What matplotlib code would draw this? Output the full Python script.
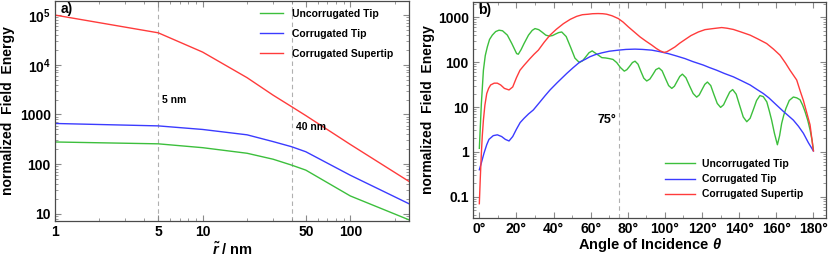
import matplotlib
matplotlib.use("Agg")
import matplotlib.pyplot as plt
from matplotlib.ticker import LogLocator, NullFormatter, MultipleLocator

# Colors
GREEN = "#3cbf3c"
BLUE  = "#3b3bff"
RED   = "#ff3b3b"
FRAME = "#4a4a4a"
TICK  = "#8a8a8a"
DASH  = "#b0b0b0"

LABELS = ["Uncorrugated Tip", "Corrugated Tip", "Corrugated Supertip"]

# Panel a: field energy vs tip radius
r_nm     = [1, 5, 10, 20, 30, 40, 50, 100, 250]
a_uncorr = [280, 257, 215, 166, 126, 96, 76, 23, 7.6]
a_corr   = [660, 590, 500, 390, 285, 225, 178, 60, 16]
a_super  = [1.0e5, 4.4e4, 1.8e4, 5500, 2450, 1440, 950, 250, 45]
a_xticks = [1, 5, 10, 50, 100]
a_yticks = [10, 100, 1000, 1e4, 1e5]
a_ylabels = ["10", "100", "1000", r"$10^4$", r"$10^5$"]

# Panel b: field energy vs angle of incidence
th_uncorr = [0, 1.1, 2.2, 3.2, 4.3, 5.5, 7, 8.8, 10.6, 12.5, 15.1, 17.5, 20.1, 21,
             22.5, 24.1, 26.5, 28.5, 30, 32, 34, 35.8, 37.7, 39.5, 41, 42.7, 44.4,
             46.8, 49.2, 51.5, 53.9, 55.6, 57.4, 59.1, 60.8, 63.4, 66, 68, 70, 72,
             74, 76, 78.1, 79.5, 81, 82.5, 83.9, 85.5, 87, 88.6, 90.2, 91.9, 93.5,
             95.1, 96.8, 98.5, 100.2, 102, 103.7, 105.1, 106.5, 108, 109.4, 111.3,
             113.2, 115.2, 117.1, 118.5, 120, 121.5, 122.9, 124.7, 126.4, 128.2,
             130, 131.6, 133.2, 134.9, 136.5, 138.4, 140.3, 142.2, 144.1, 145.9,
             147.7, 149.4, 151.2, 153, 154.9, 156.3, 157.5, 159, 160.6, 161.8,
             162.9, 164, 165.2, 167, 169.2, 171, 172.8, 174.2, 175.5, 177, 178.2,
             179.3, 180]
b_uncorr = [1.2, 12, 66, 140, 218, 320, 400, 480, 515, 500, 400, 260, 155, 150,
            190, 260, 400, 510, 560, 530, 460, 400, 380, 392, 422, 455, 470,
            372, 214, 123, 98, 107, 132, 162, 178, 150, 126, 124, 120, 115,
            98, 76, 63, 68, 81, 98, 105, 90, 63, 44, 38, 42, 53,
            68, 74, 64, 44, 30, 26, 29, 37, 48, 54, 45,
            30, 20, 16.6, 18.6, 24.5, 32, 36, 30, 19, 12,
            9.8, 11.2, 15.5, 21.5, 24.5, 19.3, 10.7, 6.0, 4.7, 5.6,
            8.9, 14, 18, 17, 13, 8, 5.1, 2.6, 1.44, 2.3,
            4.3, 6.5, 9.3, 14, 16.7, 16, 14.5, 11, 7.9, 5, 3.1,
            1.8, 1.1]

th_corr = [0, 1, 2.5, 4, 5.2, 7.5, 9.7, 12, 14, 16, 18, 20, 22, 24.1, 26.5, 29.1,
           32.7, 35.5, 38.1, 42, 47.1, 50.5, 54.3, 57, 59.6, 62.5, 66, 70, 74.9,
           79, 83.9, 88, 92.9, 97, 101.8, 106, 110.8, 115, 120.7, 123.9, 127.9,
           132, 136.9, 141, 145.9, 150, 153, 156, 160.2, 163.8, 166.5, 169.2, 172,
           174.6, 177.3, 180]
b_corr = [0.4, 0.55, 0.93, 1.45, 1.9, 2.3, 2.4, 2.2, 1.9, 1.75, 2.2, 3.2, 4.5, 5.6,
          7, 8.6, 13, 18, 24, 35, 56, 75, 102, 115, 132, 147, 161, 175, 185,
          192, 195, 192, 185, 172, 155, 138, 120, 103, 86, 76, 66,
          56, 47, 39, 31, 24, 20, 16, 11, 8, 6.4, 5.1, 3.7,
          2.6, 1.6, 1.05]

th_super = [0, 0.5, 1.1, 1.6, 2.2, 3, 4, 5, 6.1, 8, 9.7, 11.5, 13.5, 16, 18, 20,
            21.9, 24.1, 27.3, 29.5, 31.8, 35, 38.1, 41.5, 45.3, 49, 52.5, 55.5,
            58.7, 61, 64, 66.5, 68.6, 71.5, 74.9, 77.5, 80.3, 83.5, 86.6, 89.7,
            92.9, 95.5, 97.5, 99.5, 101, 103, 105.4, 108, 110.8, 114, 118, 121.6,
            126, 130.6, 133.5, 136.9, 141, 145.9, 150, 154.8, 158.5, 162, 165,
            167.4, 171, 173, 174.6, 176.4, 178.2, 180]
b_super = [0.07, 0.25, 0.93, 2.3, 5.1, 11, 20, 26, 31, 34, 34, 31, 26, 24, 28, 45,
           66, 85, 120, 150, 185, 280, 400, 540, 720, 900, 1050, 1140,
           1170, 1200, 1210, 1200, 1170, 1080, 935, 780, 610, 470, 365, 295,
           240, 200, 178, 165, 170, 190, 218, 265, 318, 390, 470, 530,
           560, 590, 570, 535, 470, 400, 330, 260, 195, 143, 95,
           66, 40, 22, 14, 7.5, 4, 1.05]
b_xticks = list(range(0, 181, 20))

plt.rcParams.update({
    "font.family": ["Liberation Sans", "DejaVu Sans"],
    "font.weight": "bold",
    "axes.labelweight": "bold",
    "mathtext.fontset": "custom",
    "mathtext.rm": "Liberation Sans:bold",
    "mathtext.bf": "Liberation Sans:bold",
    "mathtext.it": "Liberation Sans:italic:bold",
    "axes.edgecolor": FRAME,
    "axes.linewidth": 0.9,
    "xtick.direction": "in",
    "ytick.direction": "in",
    "xtick.top": True,
    "ytick.right": True,
    "xtick.color": TICK,
    "ytick.color": TICK,
    "xtick.labelcolor": "black",
    "ytick.labelcolor": "black",
    "xtick.labelsize": 10,
    "ytick.labelsize": 10,
    "xtick.major.size": 4,
    "ytick.major.size": 4,
    "xtick.minor.size": 2,
    "ytick.minor.size": 2,
    "xtick.major.pad": 3,
    "ytick.major.pad": 3,
})

fig = plt.figure(figsize=(8.3, 2.59), dpi=100)
ax1 = fig.add_axes([0.0663, 0.1467, 0.4265, 0.849])
ax2 = fig.add_axes([0.5699, 0.1583, 0.4253, 0.834])

# a) radius dependence
ax1.plot(r_nm, a_uncorr, color=GREEN, lw=1, label=LABELS[0])
ax1.plot(r_nm, a_corr, color=BLUE, lw=1, label=LABELS[1])
ax1.plot(r_nm, a_super, color=RED, lw=1, label=LABELS[2])
ax1.set_xscale("log"); ax1.set_yscale("log")
ax1.set_xlim(1, 250); ax1.set_ylim(7.2, 1.91e5)
ax1.axvline(5, color=DASH, lw=0.8, ls=(0, (4, 3)), zorder=0)
ax1.axvline(40, color=DASH, lw=0.8, ls=(0, (4, 3)), zorder=0)
ax1.set_xticks(a_xticks, [str(v) for v in a_xticks])
ax1.set_yticks(a_yticks, a_ylabels)
ax1.xaxis.set_minor_locator(LogLocator(base=10, subs=range(2, 10), numticks=20))
ax1.yaxis.set_minor_locator(LogLocator(base=10, subs=range(2, 10), numticks=20))
ax1.xaxis.set_minor_formatter(NullFormatter())
ax1.yaxis.set_minor_formatter(NullFormatter())
ax1.text(5.32, 1950, "5 nm", fontsize=7.5, ha="left", va="center")
ax1.text(43, 569, "40 nm", fontsize=7.5, ha="left", va="center")
ax1.text(0.015, 0.995, "a)", transform=ax1.transAxes, fontsize=10, va="top")
ax1.set_xlabel(r"$\tilde{r}$ / nm", fontsize=10.5, labelpad=1)
ax1.set_ylabel("normalized  Field  Energy", fontsize=10)
ax1.yaxis.set_label_coords(-0.113, 0.5)
ax1.legend(loc="upper left", bbox_to_anchor=(0.579, 0.964), frameon=False,
           fontsize=7.5, handlelength=2.2, handletextpad=0.85, labelspacing=0.95,
           borderpad=0, borderaxespad=0)

# b) angle dependence
ax2.plot(th_uncorr, b_uncorr, color=GREEN, lw=1, label=LABELS[0])
ax2.plot(th_corr, b_corr, color=BLUE, lw=1, label=LABELS[1])
ax2.plot(th_super, b_super, color=RED, lw=1, label=LABELS[2])
ax2.set_yscale("log")
ax2.set_xlim(-3.4, 186.8); ax2.set_ylim(0.0336, 2190)
ax2.axvline(75, color=DASH, lw=0.8, ls=(0, (4, 3)), zorder=0)
ax2.set_xticks(b_xticks, [f"{v}°" for v in b_xticks])
ax2.xaxis.set_minor_locator(MultipleLocator(10))
ax2.set_yticks([0.1, 1, 10, 100, 1000], ["0.1", "1", "10", "100", "1000"])
ax2.yaxis.set_minor_locator(LogLocator(base=10, subs=range(2, 10), numticks=20))
ax2.yaxis.set_minor_formatter(NullFormatter())
ax2.text(74, 5.2, "75°", fontsize=9, ha="right", va="center")
ax2.text(0.015, 0.995, "b)", transform=ax2.transAxes, fontsize=10, va="top")
ax2.set_xlabel(r"Angle of Incidence $\theta$", fontsize=10.5, labelpad=0)
ax2.set_ylabel("normalized  Field  Energy", fontsize=10)
ax2.yaxis.set_label_coords(-0.108, 0.5)
ax2.legend(loc="upper left", bbox_to_anchor=(0.544, 0.273), frameon=False,
           fontsize=7.5, handlelength=2.9, handletextpad=0.65, labelspacing=0.5,
           borderpad=0, borderaxespad=0)

fig.savefig("out.png", dpi=100)
plt.close(fig)
